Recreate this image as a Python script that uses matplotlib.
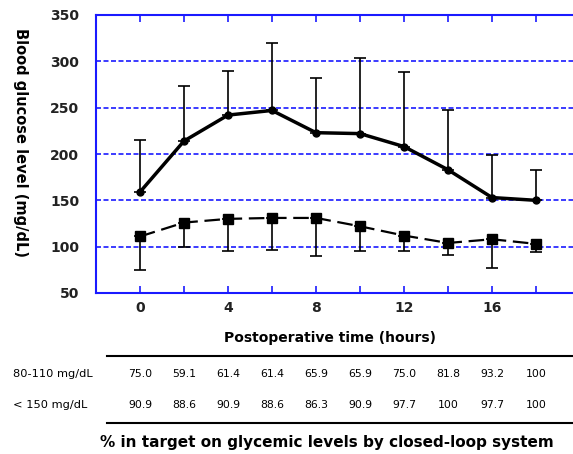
import matplotlib.pyplot as plt

hours = [0, 2, 4, 6, 8, 10, 12, 14, 16, 18]
mean_solid = [159, 214, 242, 247, 223, 222, 208, 183, 153, 150]
sd_solid = [56, 59, 48, 73, 59, 82, 80, 64, 46, 33]
mean_dashed = [111, 126, 130, 131, 131, 122, 112, 104, 108, 103]
sd_dashed = [36, 26, 35, 35, 41, 27, 17, 13, 31, 9]

row_labels = ["80-110 mg/dL", "< 150 mg/dL"]
pct_80_110 = ["75.0", "59.1", "61.4", "61.4", "65.9", "65.9", "75.0", "81.8", "93.2", "100"]
pct_150 = ["90.9", "88.6", "90.9", "88.6", "86.3", "90.9", "97.7", "100", "97.7", "100"]

W, H = 573, 454
fig = plt.figure(figsize=(W / 100, H / 100), dpi=100)
ax = fig.add_axes([96 / W, 1 - 293 / H, (580 - 96) / W, (293 - 15) / H])
ax.set_xlim(-2, 20)
ax.set_ylim(50, 350)

blue = "#1a1aff"
for s in ax.spines.values():
    s.set_color(blue)
    s.set_linewidth(1.5)
for y in [100, 150, 200, 250, 300]:
    ax.axhline(y, color=blue, lw=1.2, ls=(0, (3, 1.5)), zorder=0)

ax.errorbar(hours, mean_solid, yerr=[[0] * 10, sd_solid], fmt="none",
            ecolor="black", elinewidth=1.2, capsize=4, capthick=1.2)
ax.plot(hours, mean_solid, color="black", lw=2.5, marker="o", ms=5)
ax.errorbar(hours, mean_dashed, yerr=[sd_dashed, [0] * 10], fmt="none",
            ecolor="black", elinewidth=1.2, capsize=4, capthick=1.2)
ax.plot(hours, mean_dashed, color="black", lw=1.6, ls=(0, (7, 3)),
        marker="s", ms=7)

ax.set_xticks(hours)
ax.set_xticklabels([str(h) if h % 4 == 0 and h < 18 else "" for h in hours])
ax.tick_params(axis="x", direction="in", top=True, color=blue, length=5,
               width=1.2, pad=6, labelsize=10)
ax.set_yticks([50, 100, 150, 200, 250, 300, 350])
ax.tick_params(axis="y", length=0, pad=12, labelsize=10)
for lab in ax.get_xticklabels() + ax.get_yticklabels():
    lab.set_fontweight("bold")
    lab.set_color("#222222")

fig.text(330 / W, 1 - 338 / H, "Postoperative time (hours)", ha="center",
         va="center", fontsize=10, fontweight="bold")
fig.text(20 / W, 1 - 143 / H, "Blood glucose level (mg/dL)", ha="center",
         va="center", rotation=-90, fontsize=10.5, fontweight="bold")

# table under the chart
fig.add_artist(plt.Line2D([107 / W, 1], [1 - 356 / H] * 2, color="black", lw=1.5))
fig.add_artist(plt.Line2D([107 / W, 1], [1 - 423 / H] * 2, color="black", lw=1.5))
trans = ax.get_xaxis_transform()
for yy, lab, vals in [(374, row_labels[0], pct_80_110), (405, row_labels[1], pct_150)]:
    fig.text(13 / W, 1 - yy / H, lab, ha="left", va="center", fontsize=8.2)
    for h, v in zip(hours, vals):
        x_fig = fig.transFigure.inverted().transform(trans.transform((h, 0)))[0]
        fig.text(x_fig, 1 - yy / H, v, ha="center", va="center", fontsize=7.8)

fig.text(327 / W, 1 - 443 / H, "% in target on glycemic levels by closed-loop system",
         ha="center", va="center", fontsize=11, fontweight="bold")

fig.savefig("out.png", dpi=100)
